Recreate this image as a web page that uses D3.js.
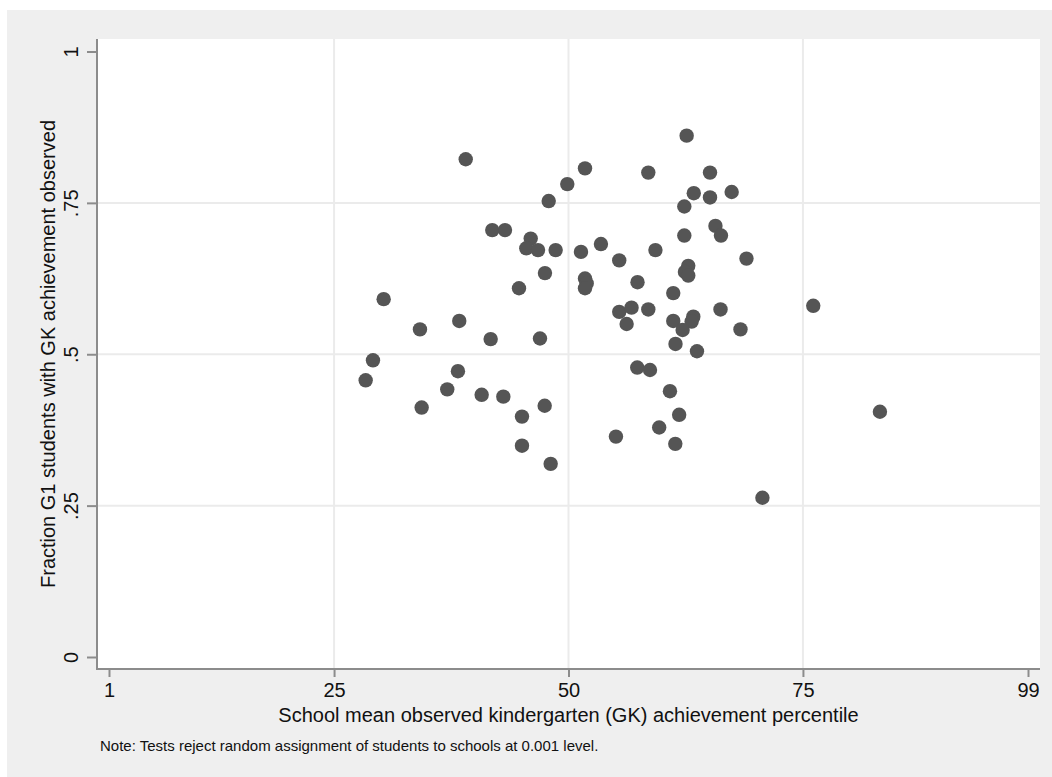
<!DOCTYPE html>
<html>
<head>
<meta charset="utf-8">
<script src="https://cdn.jsdelivr.net/npm/d3@7"></script>
<style>
  html, body { margin: 0; padding: 0; background: #fff; }
  svg { display: block; font-family: "Liberation Sans", Arial, Helvetica, sans-serif; }
</style>
</head>
<body>
<svg id="chart"></svg>
<script>
// School mean GK percentile (x) vs fraction of G1 students with GK score observed (y)
const schoolMeanPct = [
  39.04, 47.89, 41.87, 43.23, 45.97, 45.50, 46.75, 48.63, 47.49, 44.72,
  30.29, 38.35, 34.16, 41.70, 46.96, 29.15, 28.37, 38.21, 37.07, 40.74,
  43.05, 34.34, 47.46, 45.04, 45.04, 48.10, 62.60, 51.76, 58.51, 65.09,
  49.87, 63.36, 67.40, 65.09, 62.35, 65.67, 66.26, 62.35, 51.33, 53.46,
  59.27, 55.41, 68.98, 62.77, 62.42, 62.77, 51.76, 51.94, 51.76, 57.36,
  61.17, 55.41, 56.72, 58.51, 56.20, 61.17, 63.31, 63.13, 62.17, 66.21,
  68.34, 61.41, 63.70, 57.33, 58.69, 60.82, 61.80, 59.67, 55.06, 61.39,
  70.68, 76.10, 83.21
];
const fracObserved = [
  0.822, 0.753, 0.705, 0.705, 0.691, 0.675, 0.672, 0.672, 0.634, 0.609,
  0.591, 0.555, 0.541, 0.525, 0.526, 0.490, 0.457, 0.472, 0.442, 0.433,
  0.430, 0.412, 0.415, 0.397, 0.349, 0.319, 0.861, 0.807, 0.800, 0.800,
  0.781, 0.766, 0.768, 0.759, 0.744, 0.712, 0.696, 0.696, 0.669, 0.682,
  0.672, 0.655, 0.658, 0.646, 0.636, 0.630, 0.625, 0.617, 0.609, 0.619,
  0.601, 0.570, 0.577, 0.574, 0.550, 0.555, 0.562, 0.554, 0.540, 0.574,
  0.541, 0.517, 0.505, 0.478, 0.474, 0.439, 0.400, 0.379, 0.364, 0.352,
  0.263, 0.580, 0.405
];
const xTicks = [1, 25, 50, 75, 99];
const yTicks = [0, 0.25, 0.5, 0.75, 1];
const xTitle = "School mean observed kindergarten (GK) achievement percentile";
const yTitle = "Fraction G1 students with GK achievement observed";
const note = "Note: Tests reject random assignment of students to schools at 0.001 level.";

(function () {
  const W = 1052, H = 777;
  const plot = { left: 97, right: 1040, top: 39, bottom: 669 };
  const axisColor = "#8c8c8c";

  const svg = d3.select("#chart").attr("width", W).attr("height", H);

  svg.append("rect").attr("width", W).attr("height", H).attr("fill", "#fff");
  svg.append("rect").attr("x", 7).attr("y", 10).attr("width", W - 7).attr("height", H - 10).attr("fill", "#efefef");
  svg.append("rect")
    .attr("x", plot.left).attr("y", plot.top)
    .attr("width", plot.right - plot.left).attr("height", plot.bottom - plot.top)
    .attr("fill", "#fff");

  const x = d3.scaleLinear().domain([1, 99]).range([109, 1028]);
  const y = d3.scaleLinear().domain([0, 1]).range([657, 51.5]);

  // gridlines (interior ticks only)
  const grid = svg.append("g").attr("stroke", "#ebebeb").attr("stroke-width", 2);
  grid.selectAll("line.v")
    .data(xTicks.slice(1, -1))
    .join("line")
    .attr("class", "v")
    .attr("x1", (d) => x(d)).attr("x2", (d) => x(d))
    .attr("y1", plot.top).attr("y2", plot.bottom);
  grid.selectAll("line.h")
    .data(yTicks.slice(1, -1))
    .join("line")
    .attr("class", "h")
    .attr("y1", (d) => y(d)).attr("y2", (d) => y(d))
    .attr("x1", plot.left).attr("x2", plot.right);

  // points
  const pts = schoolMeanPct.map((v, i) => ({ x: v, y: fracObserved[i] }));
  svg.append("g")
    .selectAll("circle")
    .data(pts)
    .join("circle")
    .attr("cx", (d) => x(d.x))
    .attr("cy", (d) => y(d.y))
    .attr("r", 7.2)
    .attr("fill", "#555555");

  const fmtY = (d) => (d === 0 || d === 1 ? String(d) : String(d).replace(/^0/, ""));

  // y axis
  const gy = svg.append("g")
    .attr("transform", `translate(${plot.left},0)`)
    .call(d3.axisLeft(y).tickValues(yTicks).tickSize(10).tickFormat(fmtY));
  gy.select(".domain").remove();
  gy.selectAll(".tick line").attr("stroke", axisColor).attr("stroke-width", 2);
  gy.selectAll(".tick text")
    .attr("x", null).attr("dy", null)
    .attr("text-anchor", "middle")
    .attr("transform", "translate(-19,0) rotate(-90)")
    .attr("font-size", 20)
    .attr("font-family", "Liberation Sans, Arial, sans-serif")
    .attr("fill", "#111");

  // x axis
  const gx = svg.append("g")
    .attr("transform", `translate(0,${plot.bottom})`)
    .call(d3.axisBottom(x).tickValues(xTicks).tickSize(8).tickFormat(d3.format("d")));
  gx.select(".domain").remove();
  gx.selectAll(".tick line").attr("stroke", axisColor).attr("stroke-width", 2);
  gx.selectAll(".tick text")
    .attr("y", 28).attr("dy", null)
    .attr("font-size", 20)
    .attr("font-family", "Liberation Sans, Arial, sans-serif")
    .attr("fill", "#111");

  // axis lines span the whole plot region
  svg.append("line")
    .attr("x1", plot.left).attr("x2", plot.left)
    .attr("y1", plot.top).attr("y2", plot.bottom + 1)
    .attr("stroke", axisColor).attr("stroke-width", 2);
  svg.append("line")
    .attr("x1", plot.left - 1).attr("x2", plot.right)
    .attr("y1", plot.bottom).attr("y2", plot.bottom)
    .attr("stroke", axisColor).attr("stroke-width", 2);

  // titles
  svg.append("text")
    .attr("x", (plot.left + plot.right) / 2).attr("y", 722)
    .attr("text-anchor", "middle")
    .attr("font-size", 20)
    .attr("fill", "#111")
    .text(xTitle);
  svg.append("text")
    .attr("transform", `translate(55,${(plot.top + plot.bottom) / 2}) rotate(-90)`)
    .attr("text-anchor", "middle")
    .attr("font-size", 20)
    .attr("fill", "#111")
    .text(yTitle);
  svg.append("text")
    .attr("x", 100).attr("y", 751)
    .attr("font-size", 15)
    .attr("fill", "#111")
    .text(note);
})();
</script>
</body>
</html>
